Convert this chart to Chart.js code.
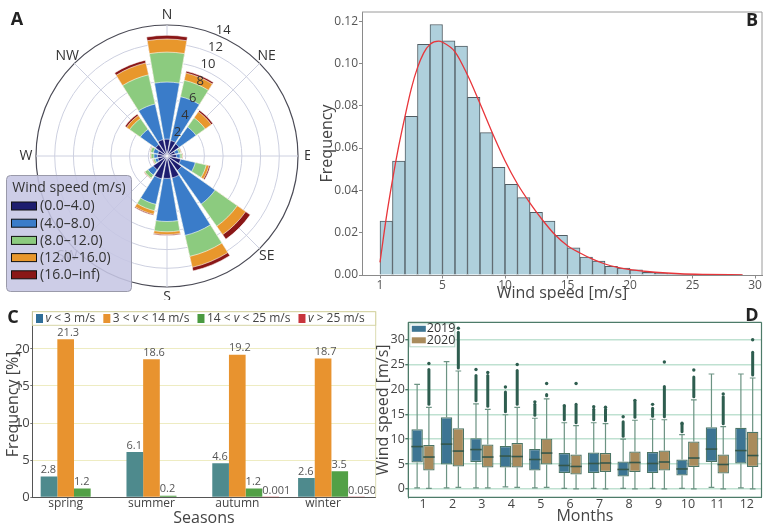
<!DOCTYPE html>
<html>
<head>
<meta charset="utf-8">
<script src="https://cdn.jsdelivr.net/npm/chart.js@4.4.1/dist/chart.umd.min.js"></script>
<style>
  html, body { margin: 0; padding: 0; background: #fff; }
  #wrap { position: relative; width: 763px; height: 523px; overflow: hidden; }
  canvas { position: absolute; }
</style>
</head>
<body>
<div id="wrap">
  <canvas id="rose" width="310" height="300" style="left:0;top:0"></canvas>
  <canvas id="hist" width="463" height="300" style="left:300px;top:0"></canvas>
  <canvas id="seasons" width="380" height="223" style="left:0;top:300px"></canvas>
  <canvas id="months" width="393" height="223" style="left:370px;top:300px"></canvas>
</div>
<script>
// ---- A: wind rose (frequency %, per speed bin) ----
const roseDirections = ['N','NNE','NE','ENE','E','ESE','SE','SSE','S','SSW','SW','WSW','W','WNW','NW','NNW'];
const roseBinLabels = ['(0.0–4.0)', '(4.0–8.0)', '(8.0–12.0)', '(12.0–16.0)', '(16.0–inf)'];
const rose0to4   = [1.8, 1.7, 1.6, 0.9, 1.0, 1.5, 1.9, 2.4, 2.4, 2.5, 1.8, 1.0, 1.0, 1.0, 1.5, 1.8];
const rose4to8   = [6.1, 4.8, 2.2, 0.4, 0.4, 1.6, 4.4, 6.3, 4.6, 2.8, 0.7, 0.3, 0.4, 0.5, 2.0, 3.9];
const rose8to12  = [3.2, 1.8, 1.2, 0.2, 0.2, 1.2, 2.9, 2.3, 1.1, 0.7, 0.4, 0.2, 0.3, 0.3, 1.4, 3.2];
const rose12to16 = [1.4, 0.8, 0.8, 0.05, 0.05, 0.3, 1.1, 1.2, 0.3, 0.4, 0.05, 0.05, 0.05, 0.05, 0.4, 1.3];
const rose16up   = [0.4, 0.2, 0.2, 0.05, 0.05, 0.15, 0.6, 0.4, 0.1, 0.1, 0.05, 0.05, 0.05, 0.05, 0.2, 0.3];
const roseTicks = [2, 4, 6, 8, 10, 12, 14];
const compassPoints = ['N', 'NE', 'E', 'SE', 'S', 'SW', 'W', 'NW'];
const roseColors = ['#1d1d6f', '#3a7cc9', '#8ccb7f', '#e8972c', '#8a1717'];

// ---- B: histogram of wind speed with fitted density ----
const histFreq = [0.0255, 0.0538, 0.075, 0.109, 0.1184, 0.1107, 0.1082, 0.084, 0.0673, 0.0509,
                  0.0429, 0.0366, 0.0296, 0.0255, 0.0187, 0.0129, 0.0085, 0.0066, 0.0041, 0.0033,
                  0.0024, 0.0013, 0.0008, 0.0005, 0.0003, 0.0002, 0.0001, 0.0001, 0.00005];
const fitSpeed   = [0, 0.5, 1, 1.5, 2, 2.5, 3, 3.5, 4, 4.7, 5, 6, 7, 8, 9, 10, 11, 12, 13, 14,
                    15, 16, 17, 18, 19, 20, 22, 24, 26, 29];
const fitDensity = [0.006, 0.027, 0.045, 0.061, 0.075, 0.088, 0.098, 0.105, 0.109, 0.1105, 0.110,
                    0.1055, 0.0945, 0.081, 0.067, 0.054, 0.043, 0.034, 0.026, 0.019, 0.0138, 0.0104,
                    0.0075, 0.0052, 0.0036, 0.0025, 0.0013, 0.0006, 0.0003, 0.0001];
const histTickValues = [0, 5, 10, 15, 20, 25, 30];
const histTickLabels = ['1', '5', '10', '15', '20', '25', '30'];
const freqTicks = [0, 0.02, 0.04, 0.06, 0.08, 0.10, 0.12];

// ---- C: seasonal frequency per speed class ----
const seasons = ['spring', 'summer', 'autumn', 'winter'];
const seasonClasses = ['v < 3 m/s', '3 < v < 14 m/s', '14 < v < 25 m/s', 'v > 25 m/s'];
const freqBelow3 = [2.8, 6.1, 4.6, 2.6];
const freq3to14  = [21.3, 18.6, 19.2, 18.7];
const freq14to25 = [1.2, 0.2, 1.2, 3.5];
const freqAbove25 = [null, null, 0.001, 0.050];
const seasonDecimals = [1, 1, 1, 3];
const seasonPctTicks = [0, 5, 10, 15, 20];

// ---- D: monthly box plots 2019 / 2020 ----
const months = ['1','2','3','4','5','6','7','8','9','10','11','12'];
const low2019    = [0.2, 0.2, 0.2, 0.4, 0.2, 0.1, 0.1, 0.1, 0.1, 0.1, 0.3, 0.2];
const q1_2019    = [5.3, 4.9, 5.4, 4.3, 3.7, 3.2, 3.2, 2.5, 3.2, 2.7, 5.4, 5.1];
const median2019 = [8.5, 9.0, 7.9, 6.6, 5.9, 4.7, 5.1, 3.9, 5.1, 4.0, 8.0, 7.7];
const q3_2019    = [12.0, 14.4, 10.2, 8.6, 8.0, 7.2, 7.3, 5.5, 7.4, 5.9, 12.4, 12.3];
const high2019   = [21.0, 25.6, 17.1, 14.9, 14.2, 13.3, 13.3, 10.0, 14.0, 10.9, 23.1, 23.1];
const outTop2019 = [null, null, 22.8, 19.5, 17.0, 16.5, 16.0, 13.5, 16.2, 13.0, null, null];
const outMax2019 = [null, null, 24.0, 20.5, 17.5, 16.7, 16.5, 14.5, 17.0, 13.2, null, null];
const low2020    = [0.1, 0.3, 0.2, 0.3, 0.3, 0.0, 0.0, 0.0, 0.0, 0.0, 0.0, 0.0];
const q1_2020    = [3.7, 4.5, 4.3, 4.3, 4.9, 2.9, 3.4, 3.4, 3.7, 4.4, 3.1, 4.4];
const median2020 = [6.4, 7.6, 6.4, 6.5, 7.2, 4.5, 5.2, 5.3, 5.4, 6.2, 4.9, 6.7];
const q3_2020    = [8.8, 12.2, 8.9, 9.2, 10.1, 6.9, 7.2, 7.5, 7.7, 9.5, 6.9, 11.5];
const high2020   = [16.4, 23.7, 16.0, 16.4, 18.1, 12.7, 13.1, 13.8, 13.9, 17.9, 12.5, 22.3];
const outTop2020 = [24.0, 31.5, 22.8, 23.8, 19.0, 17.0, 16.0, 17.5, 20.6, 22.5, 18.5, 27.5];
const outMax2020 = [25.2, 32.3, 23.4, 25.0, 21.2, 21.2, 16.4, 17.8, 25.5, 23.9, 19.1, 30.0];
const speedTicks = [0, 5, 10, 15, 20, 25, 30];

const FONT = "'Open Sans', 'Noto Sans', sans-serif";
Chart.defaults.font.family = FONT;
Chart.defaults.color = '#444';
Chart.defaults.animation = false;
Chart.defaults.events = [];
Chart.defaults.responsive = false;
Chart.defaults.plugins.legend.display = false;
Chart.defaults.plugins.tooltip.enabled = false;

function panelLetter(letter, x, y) {
  return {
    id: 'letter',
    afterDraw(chart) {
      const c = chart.ctx;
      c.save();
      c.font = 'bold 18px ' + FONT;
      c.fillStyle = '#222';
      c.textAlign = 'center';
      c.textBaseline = 'middle';
      c.fillText(letter, x, y);
      c.restore();
    }
  };
}

function frame(color, width, sides) {
  return {
    id: 'frame',
    afterDatasetsDraw(chart) {
      const { left, right, top, bottom } = chart.chartArea;
      const c = chart.ctx;
      c.save();
      c.strokeStyle = color;
      c.lineWidth = width;
      c.beginPath();
      if (sides.includes('t')) { c.moveTo(left, top); c.lineTo(right, top); }
      if (sides.includes('r')) { c.moveTo(right, top); c.lineTo(right, bottom); }
      if (sides.includes('l')) { c.moveTo(left, top); c.lineTo(left, bottom); }
      if (sides.includes('b')) { c.moveTo(left, bottom); c.lineTo(right, bottom); }
      c.stroke();
      c.restore();
    }
  };
}

// ================= A =================
const roseBins = [rose0to4, rose4to8, rose8to12, rose12to16, rose16up];
const roseCumulative = roseBins.map((_, k) =>
  roseDirections.map((d, i) => roseBins.slice(0, k + 1).reduce((s, b) => s + b[i], 0)));
// every direction gets a wedge slot followed by a small empty gap slot
const roseSlots = roseDirections.flatMap(d => [d, '']);
const WEDGE = 19.5, GAP = 3;

const roseDecor = {
  id: 'roseDecor',
  beforeDatasetsDraw(chart) {
    const r = chart.scales.r;
    const c = chart.ctx;
    const R = r.getDistanceFromCenterForValue(roseTicks[roseTicks.length - 1]);
    c.save();
    c.strokeStyle = '#cdd0e0';
    c.lineWidth = 1;
    c.beginPath();
    compassPoints.forEach((p, i) => {
      const a = i * Math.PI / 4;
      c.moveTo(r.xCenter, r.yCenter);
      c.lineTo(r.xCenter + R * Math.sin(a), r.yCenter - R * Math.cos(a));
    });
    c.stroke();
    c.restore();
  },
  afterDatasetsDraw(chart) {
    const r = chart.scales.r;
    const c = chart.ctx;
    const R = r.getDistanceFromCenterForValue(roseTicks[roseTicks.length - 1]);
    c.save();
    c.fillStyle = '#333';
    c.textAlign = 'center';
    c.textBaseline = 'middle';
    c.font = '13px ' + FONT;
    const ta = 24 * Math.PI / 180;
    roseTicks.forEach(v => {
      const d = r.getDistanceFromCenterForValue(v) + 7;
      c.fillText(String(v), r.xCenter + d * Math.sin(ta), r.yCenter - d * Math.cos(ta));
    });
    c.font = '14px ' + FONT;
    compassPoints.forEach((p, i) => {
      const a = i * Math.PI / 4;
      const d = R + 10;
      c.fillText(p, r.xCenter + d * Math.sin(a), r.yCenter - d * Math.cos(a));
    });
    c.restore();
  },
  afterDraw(chart) {
    const c = chart.ctx;
    c.save();
    c.beginPath();
    c.roundRect(6.5, 175.5, 125, 116, 4);
    c.fillStyle = 'rgba(198, 198, 228, 0.88)';
    c.fill();
    c.strokeStyle = '#9a9aaa';
    c.lineWidth = 1;
    c.stroke();
    c.fillStyle = '#333';
    c.textBaseline = 'middle';
    c.textAlign = 'center';
    c.font = '14px ' + FONT;
    c.fillText('Wind speed (m/s)', 69, 188.5);
    c.textAlign = 'left';
    roseBinLabels.forEach((lab, k) => {
      const y = 206 + k * 17.2;
      c.fillStyle = roseColors[k];
      c.fillRect(11.5, y - 4, 25, 8);
      c.strokeStyle = '#111';
      c.strokeRect(11.5, y - 4, 25, 8);
      c.fillStyle = '#333';
      c.fillText(lab, 40, y + 0.5);
    });
    c.restore();
  }
};

new Chart(document.getElementById('rose'), {
  type: 'polarArea',
  data: {
    labels: roseSlots,
    datasets: roseCumulative.map((vals, k) => ({
      label: roseBinLabels[k],
      data: vals.flatMap(v => [v, 0]),
      backgroundColor: roseColors[k],
      borderColor: '#ffffff',
      borderWidth: 0.6,
      angle: ctx => (ctx.dataIndex % 2 ? GAP : WEDGE)
    }))
  },
  options: {
    layout: { padding: { left: 36, top: 25, right: 12, bottom: 13 } },
    scales: {
      r: {
        min: 0,
        max: 14,
        startAngle: -WEDGE / 2,
        ticks: { display: false, stepSize: 2 },
        grid: {
          circular: true,
          color: ctx => (ctx.tick && ctx.tick.value === 14 ? '#4a4a55' : '#cdd0e0'),
          lineWidth: ctx => (ctx.tick && ctx.tick.value === 14 ? 1.2 : 1)
        },
        angleLines: { display: false },
        pointLabels: { display: false }
      }
    }
  },
  plugins: [roseDecor, panelLetter('A', 17, 20)]
});

// ================= B =================
new Chart(document.getElementById('hist'), {
  type: 'bar',
  data: {
    datasets: [
      {
        type: 'line',
        data: fitSpeed.map((x, i) => ({ x: x, y: fitDensity[i] })),
        borderColor: '#e8353a',
        borderWidth: 1.3,
        pointRadius: 0,
        cubicInterpolationMode: 'monotone',
        fill: false
      },
      {
        type: 'bar',
        data: histFreq.map((y, i) => ({ x: i + 0.5, y: y })),
        backgroundColor: '#afd0dc',
        borderColor: '#515d63',
        borderWidth: 1,
        barPercentage: 1,
        categoryPercentage: 1
      }
    ]
  },
  options: {
    layout: { padding: { left: 14, top: 12, right: 1, bottom: 0 } },
    scales: {
      x: {
        type: 'linear',
        min: -1.44,
        max: 30.56,
        offset: false,
        afterBuildTicks: axis => { axis.ticks = histTickValues.map(v => ({ value: v })); },
        afterFit: axis => { axis.height = 25; },
        ticks: {
          autoSkip: false, maxRotation: 0, padding: 1,
          font: { size: 12, lineHeight: 1 }, color: '#555',
          callback: (v, i) => histTickLabels[i]
        },
        grid: { offset: false, drawOnChartArea: false, tickLength: 3.5, color: '#888' },
        border: { color: '#8a8a8a' },
        title: {
          display: true, text: 'Wind speed [m/s]', color: '#444',
          font: { size: 16, lineHeight: 1 }, padding: { top: 0, bottom: -1.5 }
        }
      },
      y: {
        min: 0,
        max: 0.1243,
        afterBuildTicks: axis => { axis.ticks = freqTicks.map(v => ({ value: v })); },
        afterFit: axis => { axis.width = 48; },
        ticks: { padding: 1, font: { size: 12 }, color: '#555', callback: v => v.toFixed(2) },
        grid: { drawOnChartArea: false, tickLength: 3, color: '#888' },
        border: { color: '#8a8a8a' },
        title: {
          display: true, text: 'Frequency', color: '#444',
          font: { size: 16, lineHeight: 1 }, padding: { top: 5, bottom: 0 }
        }
      }
    }
  },
  plugins: [frame('#9a9a9a', 1, 'tr'), panelLetter('B', 452, 21)]
});

// ================= C =================
const seasonSeries = [freqBelow3, freq3to14, freq14to25, freqAbove25];
const seasonBarColors = ['#4e8a8d', '#e8932f', '#52a046', '#c8353c'];
const seasonLegendColors = ['#2f6e98', '#e8932f', '#4a9a40', '#c8353c'];
const SEASON_GROUP = 0.777;

function italicV(c, text, x, y, size) {
  let cx = x;
  text.split(/(v)/).forEach(part => {
    if (!part) return;
    c.font = (part === 'v' ? 'italic ' : '') + size + 'px ' + FONT;
    c.fillText(part, cx, y);
    cx += c.measureText(part).width;
  });
  return cx - x;
}

const seasonDecor = {
  id: 'seasonDecor',
  afterDatasetsDraw(chart) {
    const c = chart.ctx;
    const { left, right, top, bottom } = chart.chartArea;
    c.save();
    // value labels
    c.fillStyle = '#555';
    c.font = '11px ' + FONT;
    c.textAlign = 'left';
    c.textBaseline = 'bottom';
    chart.data.datasets.forEach((ds, k) => {
      chart.getDatasetMeta(k).data.forEach((bar, i) => {
        const v = seasonSeries[k][i];
        if (v === null) return;
        c.fillText(v.toFixed(seasonDecimals[k]), bar.x - bar.width / 2, bar.y - 1);
      });
    });
    // plot frame
    c.strokeStyle = '#dcdcb2';
    c.lineWidth = 1;
    c.beginPath();
    c.moveTo(left, top); c.lineTo(right, top); c.lineTo(right, bottom);
    c.stroke();
    // legend
    c.fillStyle = '#ffffff';
    c.fillRect(left + 0.5, top + 0.5, right - left - 1, 13);
    c.strokeStyle = '#d6d5a6';
    c.strokeRect(left, top, right - left, 13.6);
    c.textBaseline = 'middle';
    let x = 36;
    const y = top + 6.8;
    seasonClasses.forEach((lab, k) => {
      c.fillStyle = seasonLegendColors[k];
      c.fillRect(x, y - 4.5, 7, 9);
      c.fillStyle = '#444';
      const w = italicV(c, lab, x + 9.5, y + 0.5, 12);
      x += 9.5 + w + 8;
    });
    c.restore();
  }
};

new Chart(document.getElementById('seasons'), {
  type: 'bar',
  data: {
    datasets: seasonSeries.map((vals, k) => ({
      label: seasonClasses[k],
      data: vals.map((v, i) => ({ x: i, y: v })),
      backgroundColor: seasonBarColors[k],
      barPercentage: 1,
      categoryPercentage: SEASON_GROUP
    }))
  },
  options: {
    layout: { padding: { left: 4, top: 11.7, right: 4.3, bottom: 0 } },
    scales: {
      x: {
        type: 'linear',
        min: -0.486,
        max: 3.516,
        offset: false,
        // tick sits under the second bar of each group
        afterBuildTicks: axis => {
          axis.ticks = seasons.map((s, i) => ({ value: i - SEASON_GROUP / 8 }));
        },
        afterFit: axis => { axis.height = 25.7; },
        ticks: {
          autoSkip: false, maxRotation: 0, padding: 0.7,
          font: { size: 12, lineHeight: 1 }, color: '#444',
          callback: (v, i) => seasons[i]
        },
        grid: { display: false, drawTicks: false, offset: false },
        border: { color: '#555' },
        title: {
          display: true, text: 'Seasons', color: '#444',
          font: { size: 16, lineHeight: 1 }, padding: { top: 0, bottom: -3 }
        }
      },
      y: {
        min: 0,
        max: 25,
        afterBuildTicks: axis => { axis.ticks = seasonPctTicks.map(v => ({ value: v })); },
        afterFit: axis => { axis.width = 28.3; },
        ticks: { padding: 0.5, font: { size: 13 }, color: '#444' },
        grid: {
          color: ctx => (ctx.tick && ctx.tick.value === 0 ? 'rgba(0,0,0,0)' : '#eeecc2'),
          tickColor: '#777',
          tickLength: 2
        },
        border: { color: '#555' },
        title: {
          display: true, text: 'Frequency [%]', color: '#444',
          font: { size: 16, lineHeight: 1 }, padding: { top: 1, bottom: 0 }
        }
      }
    }
  },
  plugins: [seasonDecor, panelLetter('C', 13, 18)]
});

// ================= D =================
const boxYears = ['2019', '2020'];
const boxColors = ['#3d7593', '#a98b5c'];
const boxStats = [
  { low: low2019, median: median2019, high: high2019, outTop: outTop2019, outMax: outMax2019 },
  { low: low2020, median: median2020, high: high2020, outTop: outTop2020, outMax: outMax2020 }
];

const boxDecor = {
  id: 'boxDecor',
  beforeDatasetsDraw(chart) {
    const ys = chart.scales.y;
    const c = chart.ctx;
    c.save();
    chart.data.datasets.forEach((ds, k) => {
      const s = boxStats[k];
      chart.getDatasetMeta(k).data.forEach((bar, i) => {
        const x = bar.x;
        const cap = bar.width / 4;
        const [q1, q3] = ds.data[i];
        const yLow = ys.getPixelForValue(s.low[i]);
        const yHigh = ys.getPixelForValue(s.high[i]);
        c.strokeStyle = '#6c9383';
        c.lineWidth = 1.2;
        c.lineCap = 'butt';
        c.beginPath();
        c.moveTo(x, yLow); c.lineTo(x, ys.getPixelForValue(q1));
        c.moveTo(x, ys.getPixelForValue(q3)); c.lineTo(x, yHigh);
        c.moveTo(x - cap, yLow); c.lineTo(x + cap, yLow);
        c.moveTo(x - cap, yHigh); c.lineTo(x + cap, yHigh);
        c.stroke();
        if (s.outTop[i] !== null) {
          c.strokeStyle = '#2e5d4f';
          c.lineWidth = 3;
          c.lineCap = 'round';
          c.beginPath();
          c.moveTo(x, yHigh - 3);
          c.lineTo(x, ys.getPixelForValue(s.outTop[i]));
          c.stroke();
        }
        if (s.outMax[i] !== null) {
          c.fillStyle = '#2e5d4f';
          c.beginPath();
          c.arc(x, ys.getPixelForValue(s.outMax[i]), 1.7, 0, Math.PI * 2);
          c.fill();
        }
      });
    });
    c.restore();
  },
  afterDatasetsDraw(chart) {
    const ys = chart.scales.y;
    const c = chart.ctx;
    const { left, top } = chart.chartArea;
    c.save();
    c.strokeStyle = '#35574b';
    c.lineWidth = 1.6;
    chart.data.datasets.forEach((ds, k) => {
      chart.getDatasetMeta(k).data.forEach((bar, i) => {
        const y = ys.getPixelForValue(boxStats[k].median[i]);
        c.beginPath();
        c.moveTo(bar.x - bar.width / 2, y);
        c.lineTo(bar.x + bar.width / 2, y);
        c.stroke();
      });
    });
    // legend
    c.fillStyle = 'rgba(255,255,255,0.85)';
    c.fillRect(left + 1, top + 1, 46, 23.5);
    c.strokeStyle = '#b6d8c8';
    c.lineWidth = 1;
    c.strokeRect(left + 1.5, top + 1.5, 45, 23);
    c.font = '12.5px ' + FONT;
    c.textBaseline = 'middle';
    c.textAlign = 'left';
    boxYears.forEach((yr, k) => {
      const y = top + 6.5 + k * 11.5;
      c.fillStyle = boxColors[k];
      c.fillRect(left + 3.5, y - 3, 14, 6);
      c.fillStyle = '#333';
      c.fillText(yr, left + 18.5, y);
    });
    c.restore();
  }
};

new Chart(document.getElementById('months'), {
  type: 'bar',
  data: {
    labels: months,
    datasets: boxYears.map((yr, k) => ({
      label: yr,
      data: (k ? q1_2020 : q1_2019).map((q, i) => [q, (k ? q3_2020 : q3_2019)[i]]),
      backgroundColor: boxColors[k],
      borderColor: '#4b7566',
      borderWidth: 1.2,
      borderSkipped: false,
      categoryPercentage: 0.8,
      barPercentage: 0.97
    }))
  },
  options: {
    layout: { padding: { left: 5, top: 22.3, right: 1.5, bottom: 0 } },
    scales: {
      x: {
        offset: true,
        afterFit: axis => { axis.height = 25.7; },
        ticks: { padding: 1, font: { size: 12.5, lineHeight: 1 }, color: '#444', maxRotation: 0, autoSkip: false },
        grid: { display: false, drawTicks: false },
        border: { color: '#4d7b69' },
        title: {
          display: true, text: 'Months', color: '#444',
          font: { size: 16, lineHeight: 1 }, padding: { top: 0, bottom: -1.7 }
        }
      },
      y: {
        min: -1.7,
        max: 33.5,
        afterBuildTicks: axis => { axis.ticks = speedTicks.map(v => ({ value: v })); },
        afterFit: axis => { axis.width = 33.3; },
        ticks: { padding: 0.5, font: { size: 12.5 }, color: '#444' },
        grid: { color: '#bfe1d1', lineWidth: 1.4, tickColor: '#4d7b69', tickLength: 3 },
        border: { color: '#4d7b69' },
        title: {
          display: true, text: 'Wind speed [m/s]', color: '#444',
          font: { size: 16, lineHeight: 1 }, padding: { top: 0, bottom: 0 }
        }
      }
    }
  },
  plugins: [boxDecor, frame('#4d7b69', 1.2, 'trlb'), panelLetter('D', 382, 16)]
});
</script>
</body>
</html>
